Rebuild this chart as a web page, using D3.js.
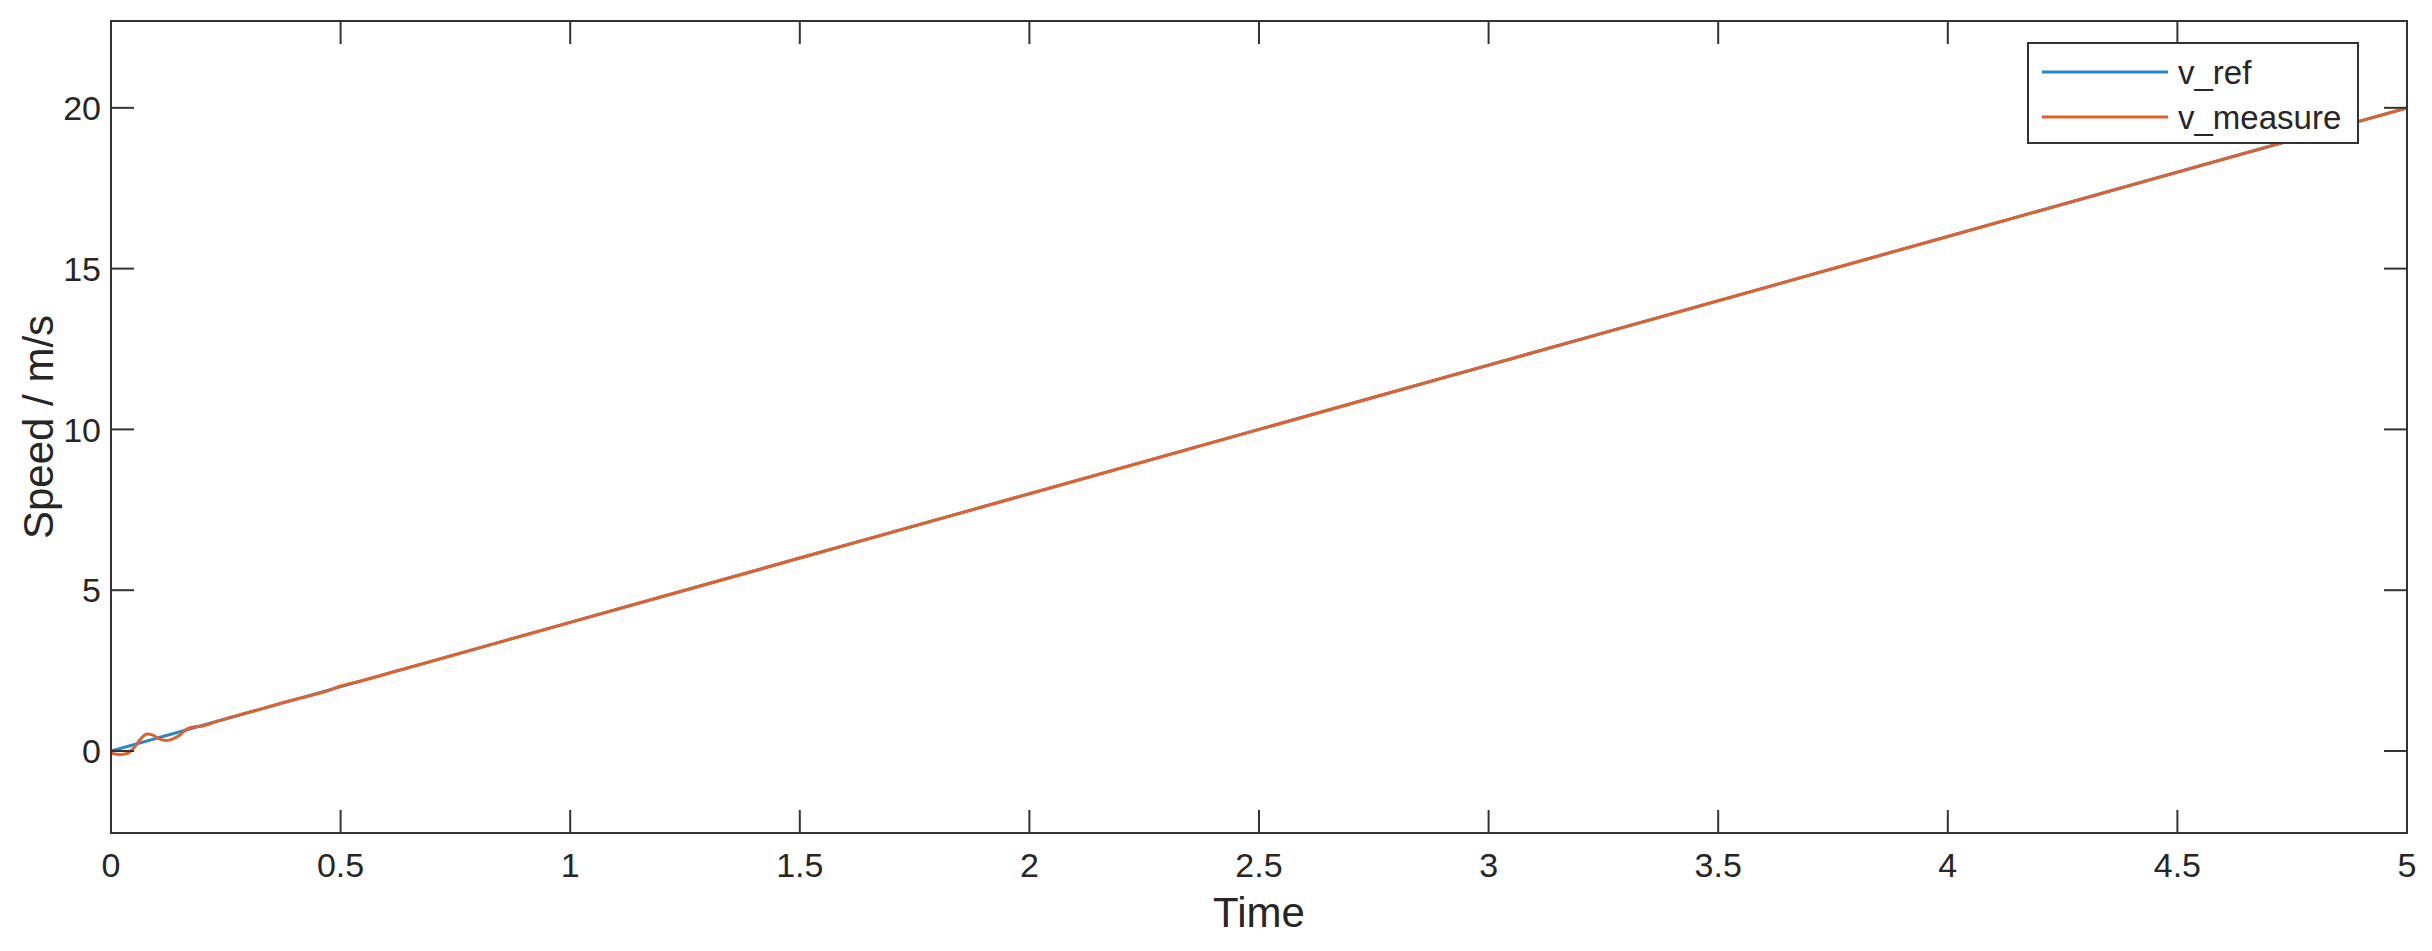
<!DOCTYPE html>
<html>
<head>
<meta charset="utf-8">
<script src="https://cdn.jsdelivr.net/npm/d3@7"></script>
<style>
	body { margin: 0; background: #ffffff; }
	text { font-family: "Liberation Sans", Arial, Helvetica, sans-serif; fill: #262626; }
	.frame { fill: none; stroke: #333333; stroke-width: 2; }
	.tick { stroke: #333333; stroke-width: 2; }
</style>
</head>
<body>
<svg id="chart" width="2432" height="951"></svg>
<script>
/*
** Speed reference vs. measured speed over time.
*/

// series names and colours (legend order)
var seriesNames = ["v_ref", "v_measure"];
var seriesColors = ["#2A86CC", "#E2602A"];

// reference speed: a straight ramp
var refTime = [0, 5];
var refSpeed = [0, 20];

var measTime = [0, 0.02, 0.035, 0.05, 0.065, 0.078, 0.09, 0.105, 0.12, 0.135, 0.15, 0.165,
	0.185, 0.2, 0.23, 0.3, 0.4, 0.47, 0.5, 0.55, 0.6, 0.8, 1, 1.5, 2, 2.5, 3, 3.5, 4, 4.5, 5];
var measSpeed = [-0.07, -0.11, -0.08, 0.1, 0.38, 0.53, 0.5, 0.38, 0.33, 0.38, 0.5, 0.68,
	0.76, 0.78, 0.92, 1.2, 1.6, 1.86, 2.02, 2.2, 2.4, 3.2, 4, 6, 8, 10, 12, 14, 16, 18, 20];

// tick values
var xTicks = [0, 0.5, 1, 1.5, 2, 2.5, 3, 3.5, 4, 4.5, 5];
var yTicks = [0, 5, 10, 15, 20];

var margin = {left: 111, right: 25, top: 21, bottom: 118};
var width = 2432, height = 951;
var tickLen = 23;

var svg = d3.select("#chart");

var x = d3.scaleLinear()
	.domain([0, 5])
	.range([margin.left, width - margin.right]);

var y = d3.scaleLinear()
	.domain([-2.55, 22.7])
	.range([height - margin.bottom, margin.top]);

/*
** Draws the axes box, ticks on all four sides and tick labels.
*/
function drawAxes() {
	var x0 = x.range()[0], x1 = x.range()[1];
	var y0 = y.range()[0], y1 = y.range()[1];

	// ticks, drawn inward on both sides
	svg.append("g").selectAll("line.xt")
		.data(xTicks)
		.enter()
		.append("line")
			.attr("class", "tick")
			.attr("x1", function(d) {return x(d);})
			.attr("x2", function(d) {return x(d);})
			.attr("y1", y0)
			.attr("y2", y0 - tickLen);

	svg.append("g").selectAll("line.xt2")
		.data(xTicks)
		.enter()
		.append("line")
			.attr("class", "tick")
			.attr("x1", function(d) {return x(d);})
			.attr("x2", function(d) {return x(d);})
			.attr("y1", y1)
			.attr("y2", y1 + tickLen);

	svg.append("g").selectAll("line.yt")
		.data(yTicks)
		.enter()
		.append("line")
			.attr("class", "tick")
			.attr("x1", x0)
			.attr("x2", x0 + tickLen)
			.attr("y1", function(d) {return y(d);})
			.attr("y2", function(d) {return y(d);});

	svg.append("g").selectAll("line.yt2")
		.data(yTicks)
		.enter()
		.append("line")
			.attr("class", "tick")
			.attr("x1", x1)
			.attr("x2", x1 - tickLen)
			.attr("y1", function(d) {return y(d);})
			.attr("y2", function(d) {return y(d);});

	// tick labels
	svg.append("g").selectAll("text")
		.data(xTicks)
		.enter()
		.append("text")
			.attr("x", function(d) {return x(d);})
			.attr("y", y0 + 44)
			.attr("text-anchor", "middle")
			.style("font-size", "34px")
			.text(function(d) {return d3.format("~g")(d);});

	svg.append("g").selectAll("text")
		.data(yTicks)
		.enter()
		.append("text")
			.attr("x", x0 - 10)
			.attr("y", function(d) {return y(d);})
			.attr("dy", "0.36em")
			.attr("text-anchor", "end")
			.style("font-size", "34px")
			.text(function(d) {return d;});

	// axis titles
	svg.append("text")
		.attr("x", (x0 + x1) / 2)
		.attr("y", 927)
		.attr("text-anchor", "middle")
		.style("font-size", "42px")
		.text("Time");

	svg.append("text")
		.attr("transform", "translate(53," + ((y0 + y1) / 2) + ") rotate(-90)")
		.attr("text-anchor", "middle")
		.style("font-size", "42px")
		.text("Speed / m/s");
}

/*
** Draws both speed lines, clipped to the plot area.
*/
function drawLines() {
	svg.append("clipPath")
		.attr("id", "plotClip")
		.append("rect")
			.attr("x", x.range()[0])
			.attr("y", y.range()[1])
			.attr("width", x.range()[1] - x.range()[0])
			.attr("height", y.range()[0] - y.range()[1]);

	var line = d3.line()
		.x(function(d) {return x(d[0]);})
		.y(function(d) {return y(d[1]);})
		.curve(d3.curveMonotoneX);

	var series = [d3.zip(refTime, refSpeed), d3.zip(measTime, measSpeed)];

	svg.append("g")
		.attr("clip-path", "url(#plotClip)")
		.selectAll("path")
		.data(series)
		.enter()
		.append("path")
			.attr("d", line)
			.attr("fill", "none")
			.attr("stroke", function(d, i) {return seriesColors[i];})
			.attr("stroke-width", 3);
}

/*
** Draws the legend in the top right corner.
*/
function drawLegend() {
	var lg = svg.append("g");

	lg.append("rect")
		.attr("x", 2028)
		.attr("y", 43)
		.attr("width", 330)
		.attr("height", 100)
		.attr("fill", "#ffffff")
		.attr("stroke", "#333333")
		.attr("stroke-width", 2);

	var items = lg.selectAll("g.item")
		.data(seriesNames)
		.enter()
		.append("g")
			.attr("transform", function(d, i) {return "translate(0," + (72 + i * 45) + ")";});

	items.append("line")
		.attr("x1", 2042)
		.attr("x2", 2168)
		.attr("stroke", function(d, i) {return seriesColors[i];})
		.attr("stroke-width", 3);

	items.append("text")
		.attr("x", 2178)
		.attr("dy", "0.36em")
		.style("font-size", "33px")
		.text(function(d) {return d;});
}

drawLines();
drawAxes();
drawLegend();

// plot frame on top of everything
svg.append("rect")
	.attr("class", "frame")
	.attr("x", x.range()[0])
	.attr("y", y.range()[1])
	.attr("width", x.range()[1] - x.range()[0])
	.attr("height", y.range()[0] - y.range()[1]);
</script>
</body>
</html>
